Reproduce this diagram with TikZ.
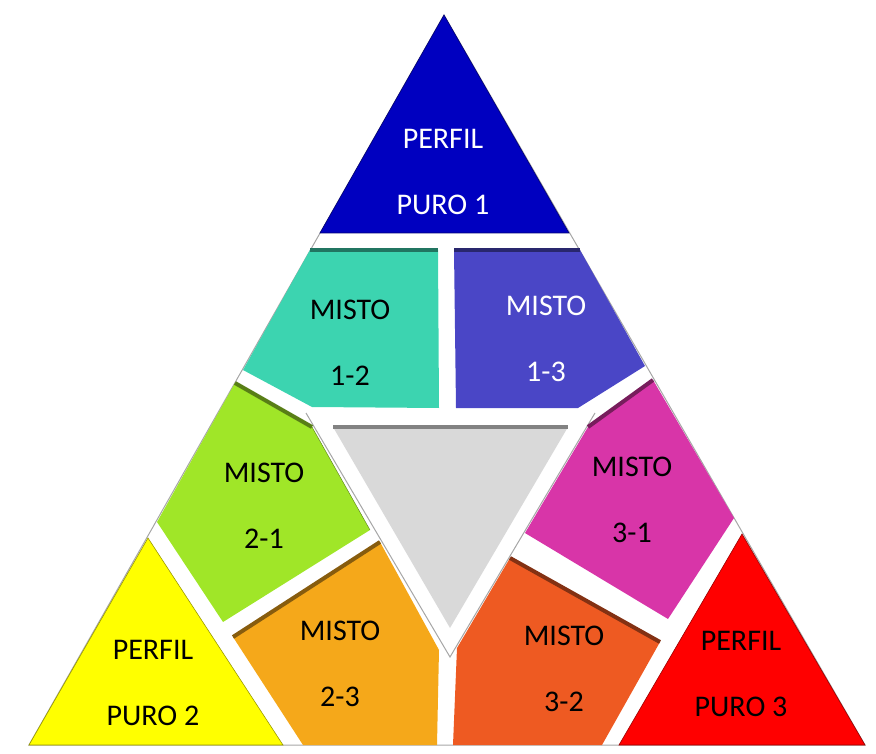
\documentclass[tikz,border=0pt]{standalone}
\usepackage{fontspec}
\setmainfont{Carlito}
\definecolor{puroA}{RGB}{0,0,192}
\definecolor{puroB}{RGB}{255,255,0}
\definecolor{puroC}{RGB}{255,0,0}
\definecolor{mixAB}{RGB}{60,212,176}
\definecolor{mixAC}{RGB}{74,70,198}
\definecolor{mixBA}{RGB}{160,230,40}
\definecolor{mixBC}{RGB}{245,168,26}
\definecolor{mixCB}{RGB}{238,90,34}
\definecolor{mixCA}{RGB}{216,53,168}
\definecolor{core}{RGB}{217,217,217}
\begin{document}
\begin{tikzpicture}[x=1pt, y=-1pt,
    frame/.style={draw=gray!70, line width=1pt},
    band/.style={line width=4pt},
    lbl/.style={align=center, font=\fontsize{30}{66}\selectfont}]
  \useasboundingbox (0,0) rectangle (876,754);
  \coordinate (A) at (444,15);
  \coordinate (L) at (29,745);
  \coordinate (R) at (865,745);
  % outlines seen in the gaps
  \path[frame] (A) -- (L) -- (R) -- cycle;
  \path[frame] (306,413) -- (450,657) -- (595,413);
  % pure profiles
  \filldraw[fill=puroA, draw=puroA!60!black, line width=0.6pt] (A) -- (320,233) -- (569,233) -- cycle;
  \filldraw[fill=puroB, draw=puroB!60!black, line width=0.6pt] (148,538) -- (283,745) -- (L) -- cycle;
  \filldraw[fill=puroC, draw=puroC!60!black, line width=0.6pt] (742,534) -- (R) -- (619,745) -- cycle;
  % mixed profiles
  \fill[mixAB] (310,250) -- (438,250) -- (439,408) -- (312,407) -- (243,370) -- cycle;
  \draw[band, mixAB!55!black] (310,250) -- (438,250);
  \fill[mixAC] (454,250) -- (580,250) -- (645,366) -- (578,408) -- (456,408) -- cycle;
  \draw[band, mixAC!55!black] (454,250) -- (580,250);
  \fill[mixBA] (235,383) -- (312,427) -- (370,530) -- (223,622) -- (157,522) -- cycle;
  \draw[band, mixBA!55!black] (235,383) -- (312,427);
  \draw[mixBA!55!black] (312,427) -- (370,530);
  \fill[mixBC] (380,542) -- (439,650) -- (437,745) -- (303,745) -- (233,637) -- cycle;
  \draw[band, mixBC!55!black] (233,637) -- (380,542);
  \fill[mixCB] (510,558) -- (660,642) -- (602,745) -- (453,745) -- (457,648) -- cycle;
  \draw[band, mixCB!55!black] (510,558) -- (660,642);
  \fill[mixCA] (653,380) -- (734,518) -- (668,619) -- (525,533) -- (588,427) -- cycle;
  \draw[band, mixCA!55!black] (588,427) -- (653,380);
  % centre
  \fill[core] (333,427) -- (568,427) -- (450,628) -- cycle;
  \draw[band, core!60!black] (333,427) -- (568,427);
  % labels
  \node[lbl, text=white] (pA) at (443,172) {PERFIL\\PURO 1};
  \node[lbl] (pB) at (153,683) {PERFIL\\PURO 2};
  \node[lbl] (pC) at (741,674) {PERFIL\\PURO 3};
  \node[lbl] (mAB) at (350,343) {MISTO\\1-2};
  \node[lbl, text=white] (mAC) at (546,339) {MISTO\\1-3};
  \node[lbl] (mBA) at (264,506) {MISTO\\2-1};
  \node[lbl] (mBC) at (340,664) {MISTO\\2-3};
  \node[lbl] (mCB) at (564,669) {MISTO\\3-2};
  \node[lbl] (mCA) at (632,500) {MISTO\\3-1};
\end{tikzpicture}
\end{document}
